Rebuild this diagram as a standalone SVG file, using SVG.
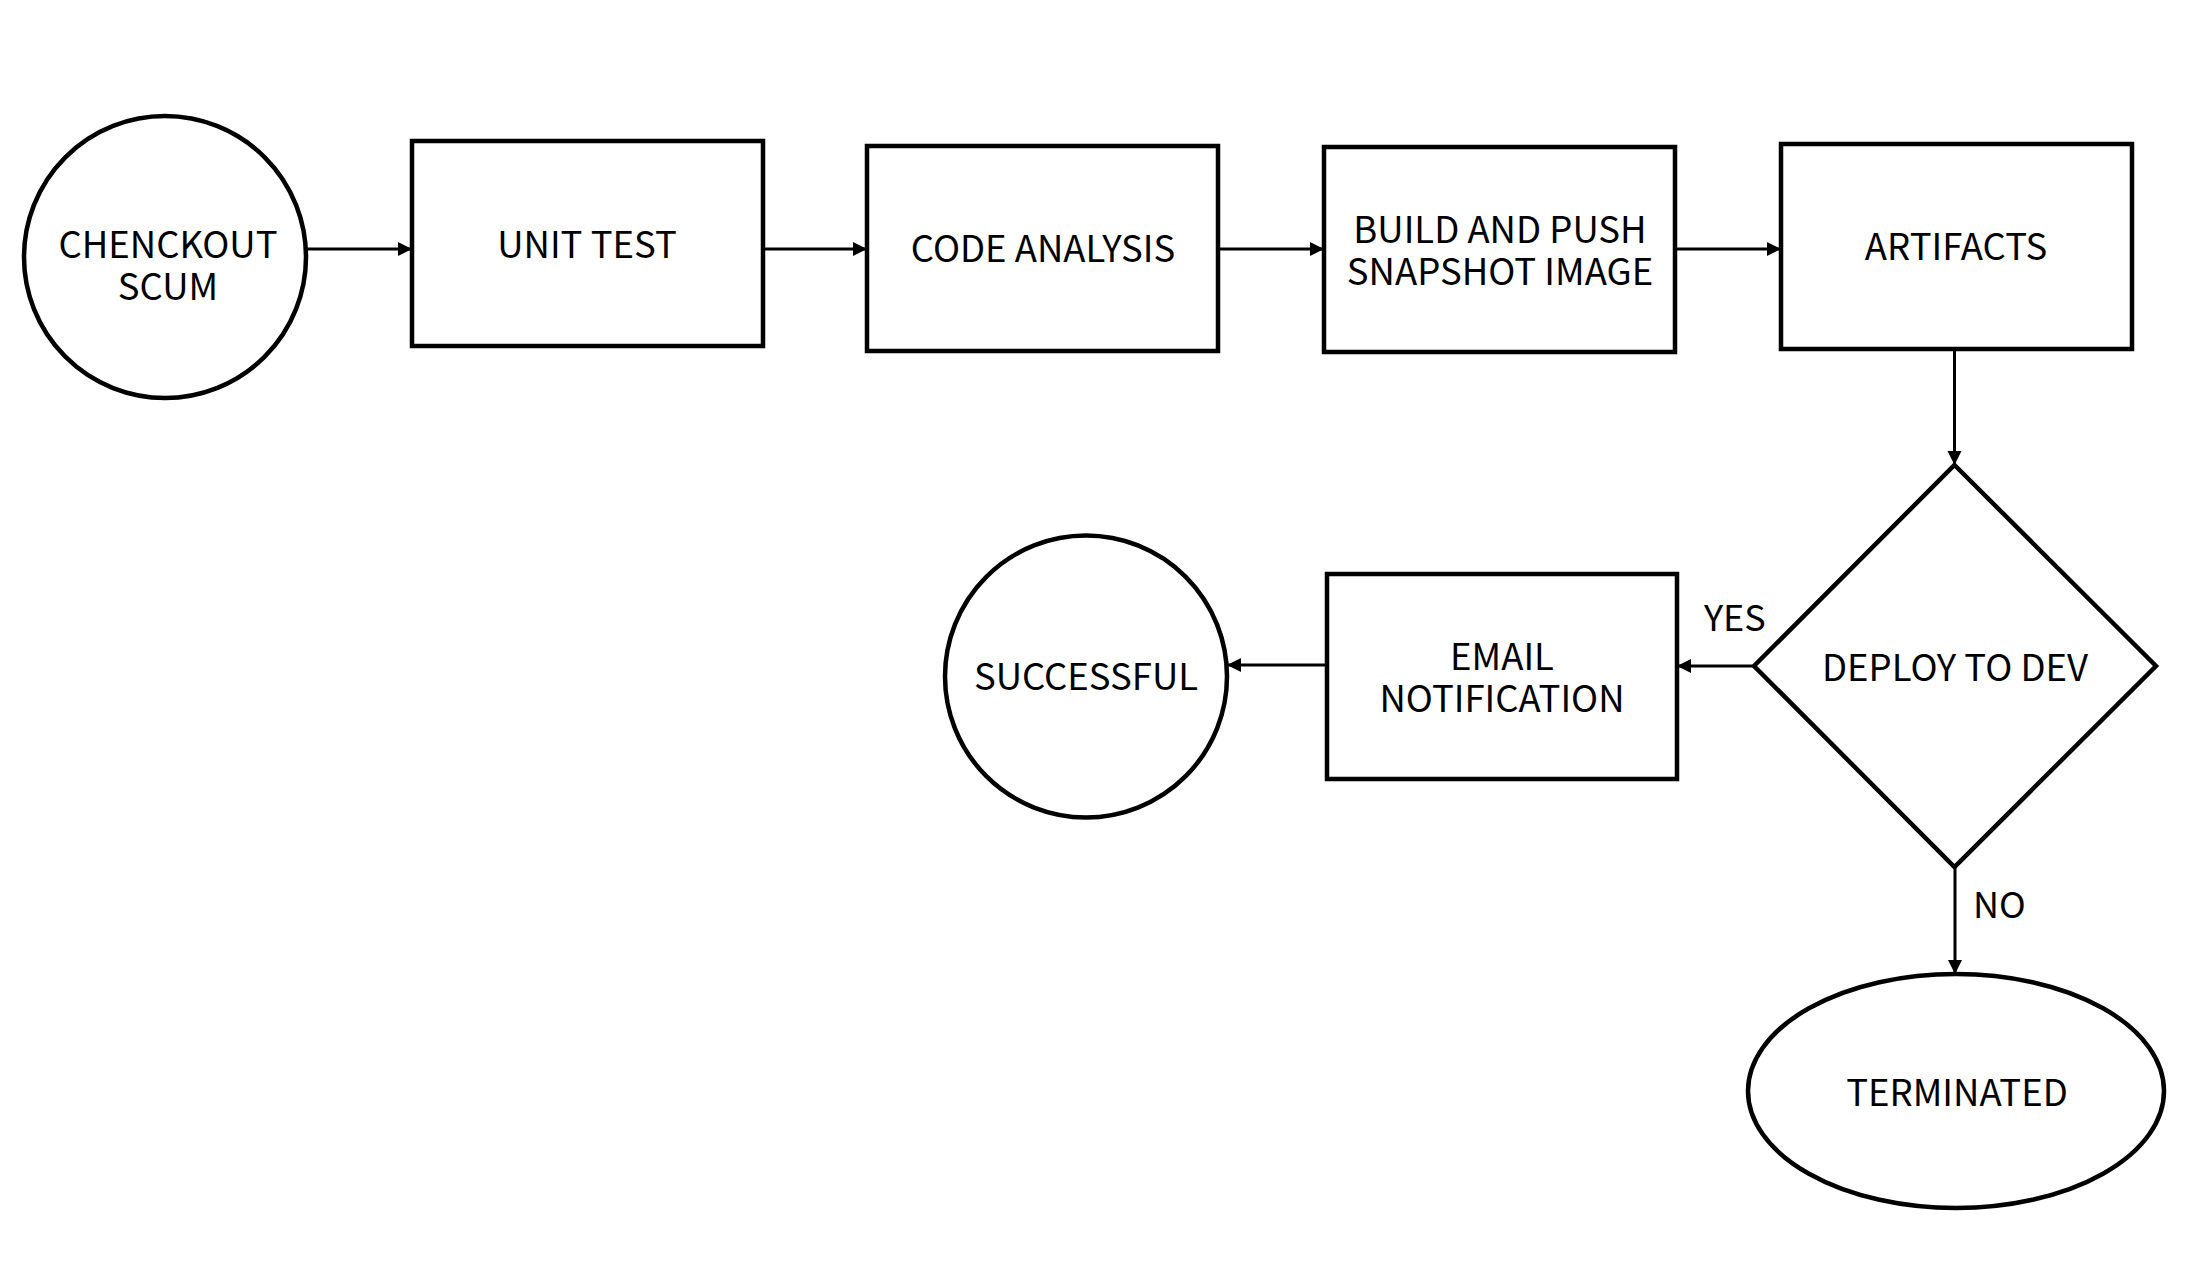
<svg xmlns="http://www.w3.org/2000/svg" width="2190" height="1278" viewBox="0 0 2190 1278">
<style>
.shape{fill:#ffffff;stroke:#000000;stroke-width:4.5}
.conn{fill:none;stroke:#000000;stroke-width:3}
.lbl{font-family:"Noto Sans CJK SC","Noto Sans",sans-serif;font-size:36.5px;fill:#000000;text-anchor:middle}
.elbl{font-family:"Noto Sans CJK SC","Noto Sans",sans-serif;font-size:36px;fill:#000000}
</style>
<defs>
<marker id="arrow" markerUnits="userSpaceOnUse" markerWidth="15" markerHeight="15" refX="14" refY="7" orient="auto">
<path d="M0,0 L14,7 L0,14 z" fill="#000000"/>
</marker>
</defs>
<rect width="2190" height="1278" fill="#ffffff"/>
<g id="connectors">
<line class="conn" x1="307" y1="249" x2="412" y2="249" marker-end="url(#arrow)"/>
<line class="conn" x1="763" y1="249" x2="867" y2="249" marker-end="url(#arrow)"/>
<line class="conn" x1="1218" y1="249" x2="1324" y2="249" marker-end="url(#arrow)"/>
<line class="conn" x1="1675" y1="249" x2="1781" y2="249" marker-end="url(#arrow)"/>
<line class="conn" x1="1954.5" y1="350" x2="1954.5" y2="465" marker-end="url(#arrow)"/>
<line class="conn" x1="1754" y1="666" x2="1677" y2="666" marker-end="url(#arrow)"/>
<line class="conn" x1="1327" y1="665" x2="1227" y2="665" marker-end="url(#arrow)"/>
<line class="conn" x1="1955" y1="867" x2="1955" y2="974" marker-end="url(#arrow)"/>
<text class="elbl" x="1704" y="631">YES</text>
<text class="elbl" x="1973" y="918">NO</text>
</g>
<g id="node-checkout">
<circle class="shape" cx="165" cy="257" r="141"/>
<text class="lbl" x="168" y="257.5">CHENCKOUT</text>
<text class="lbl" x="168" y="299.5">SCUM</text>
</g>
<g id="node-unittest">
<rect class="shape" x="412" y="141" width="351" height="205"/>
<text class="lbl" x="587" y="257.5">UNIT TEST</text>
</g>
<g id="node-codeanalysis">
<rect class="shape" x="867" y="146" width="351" height="205"/>
<text class="lbl" x="1043" y="261.5">CODE ANALYSIS</text>
</g>
<g id="node-build">
<rect class="shape" x="1324" y="147" width="351" height="205"/>
<text class="lbl" x="1500" y="242.5">BUILD AND PUSH</text>
<text class="lbl" x="1500" y="284.5">SNAPSHOT IMAGE</text>
</g>
<g id="node-artifacts">
<rect class="shape" x="1781" y="144" width="351" height="205"/>
<text class="lbl" x="1956" y="259.5">ARTIFACTS</text>
</g>
<g id="node-deploy">
<polygon class="shape" points="1954.5,465 2156,666 1954.5,867 1754,666"/>
<text class="lbl" x="1955" y="680.5">DEPLOY TO DEV</text>
</g>
<g id="node-email">
<rect class="shape" x="1327" y="574" width="350" height="205"/>
<text class="lbl" x="1502" y="669.5">EMAIL</text>
<text class="lbl" x="1502" y="711.5">NOTIFICATION</text>
</g>
<g id="node-successful">
<circle class="shape" cx="1086" cy="676.5" r="141"/>
<text class="lbl" x="1086" y="689.5">SUCCESSFUL</text>
</g>
<g id="node-terminated">
<ellipse class="shape" cx="1956" cy="1091" rx="208" ry="117"/>
<text class="lbl" x="1957" y="1105.5">TERMINATED</text>
</g>
</svg>
